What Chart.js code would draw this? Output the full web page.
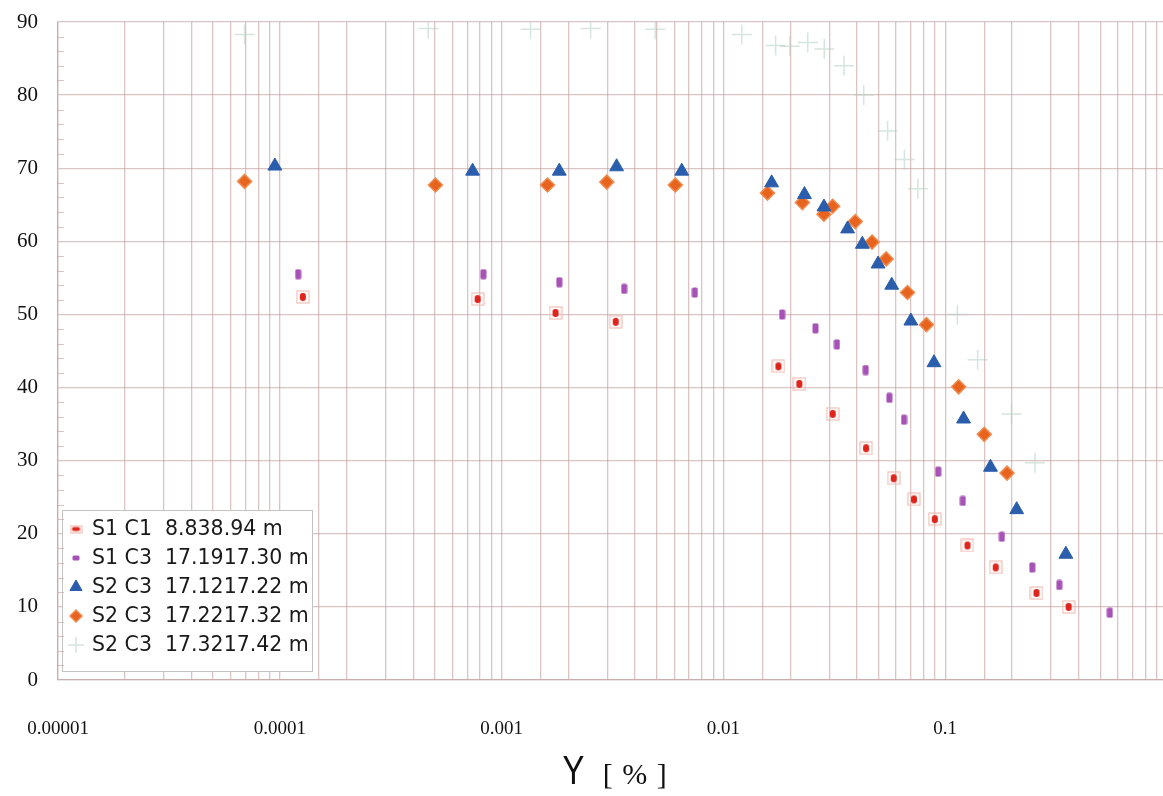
<!DOCTYPE html>
<html>
<head>
<meta charset="utf-8">
<script src="https://cdn.jsdelivr.net/npm/chart.js@4"></script>
<style>
  html, body { margin: 0; padding: 0; background: #fff; overflow: hidden; }
  #wrap { position: relative; width: 1163px; height: 796px; overflow: hidden; }
  #strainChart { position: absolute; left: 0; top: 0; }
  #xTitle { position: absolute; left: 560px; top: 748px; white-space: nowrap; color: #111; }
  #xTitle .sym { font-family: "Liberation Sans", sans-serif; font-size: 40px; display: inline-block; transform: scaleX(0.82); }
  #xTitle .unit { font-family: "Liberation Serif", serif; font-size: 30px; margin-left: 16px; letter-spacing: 1px; }
</style>
</head>
<body>
<div id="wrap">
  <canvas id="strainChart" width="1180" height="796"></canvas>
  <div id="xTitle"><span class="sym">Y</span><span class="unit">[ % ]</span></div>
</div>
<script>
// series labels
const seriesNames = [
  'S1 C1  8.838.94 m',
  'S1 C3  17.1917.30 m',
  'S2 C3  17.1217.22 m',
  'S2 C3  17.2217.32 m',
  'S2 C3  17.3217.42 m'
];

// S1 C1
const s1c1X = [1.27e-4, 7.8e-4, 1.75e-3, 3.27e-3, 0.0177, 0.022, 0.0311, 0.044, 0.0586, 0.0723, 0.0898, 0.126, 0.169, 0.258, 0.36];
const s1c1Y = [52.4, 52.1, 50.2, 49.0, 42.9, 40.5, 36.4, 31.7, 27.6, 24.7, 22.0, 18.4, 15.4, 11.9, 10.0];

// S1 C3
const s1c3X = [1.21e-4, 8.28e-4, 1.82e-3, 3.57e-3, 7.43e-3, 0.0184, 0.026, 0.0325, 0.0438, 0.056, 0.0652, 0.093, 0.12, 0.18, 0.247, 0.327, 0.552];
const s1c3Y = [55.5, 55.5, 54.4, 53.5, 53.0, 50.0, 48.1, 45.9, 42.4, 38.6, 35.6, 28.5, 24.5, 19.6, 15.4, 13.0, 9.2];

// S2 C3, 17.12 - 17.22 m
const s2aX = [9.5e-5, 7.4e-4, 1.82e-3, 3.3e-3, 6.49e-3, 0.0165, 0.0232, 0.0284, 0.0363, 0.0423, 0.0498, 0.0574, 0.07, 0.089, 0.121, 0.16, 0.21, 0.35];
const s2aY = [70.3, 69.6, 69.6, 70.2, 69.6, 68.0, 66.4, 64.7, 61.7, 59.6, 56.9, 54.0, 49.1, 43.4, 35.7, 29.1, 23.3, 17.2];

// S2 C3, 17.22 - 17.32 m
const s2bX = [6.94e-5, 5.03e-4, 1.61e-3, 2.98e-3, 6.07e-3, 0.0158, 0.0227, 0.0284, 0.0311, 0.0393, 0.0468, 0.0542, 0.0676, 0.0823, 0.115, 0.15, 0.19];
const s2bY = [68.2, 67.7, 67.7, 68.1, 67.7, 66.6, 65.3, 63.7, 64.8, 62.7, 59.9, 57.6, 53.0, 48.6, 40.1, 33.6, 28.3];

// S2 C3, 17.32 - 17.42 m
const s2cX = [6.94e-5, 4.67e-4, 1.35e-3, 2.52e-3, 4.93e-3, 0.0121, 0.0172, 0.0199, 0.024, 0.0285, 0.035, 0.0429, 0.055, 0.0655, 0.0753, 0.1135, 0.14, 0.199, 0.254];
const s2cY = [88.3, 89.1, 89.0, 89.1, 89.0, 88.3, 86.8, 86.7, 87.2, 86.3, 84.0, 80.0, 75.1, 71.2, 67.2, 50.0, 43.8, 36.4, 29.7];

// axis ticks
const xTickLabels = ['0.00001', '0.0001', '0.001', '0.01', '0.1', '1'];
const yMin = 0, yMax = 90, yStep = 10;

function pairs(xs, ys) {
  return xs.map((x, i) => ({ x: x, y: ys[i] }));
}

function roundRect(ctx, x, y, w, h, r) {
  ctx.beginPath();
  ctx.moveTo(x + r, y);
  ctx.arcTo(x + w, y, x + w, y + h, r);
  ctx.arcTo(x + w, y + h, x, y + h, r);
  ctx.arcTo(x, y + h, x, y, r);
  ctx.arcTo(x, y, x + w, y, r);
  ctx.closePath();
}

// red dot inside a pale frame
function makeRedMarker(w, h, cw, ch) {
  const c = document.createElement('canvas');
  c.width = w; c.height = h;
  const g = c.getContext('2d');
  g.strokeStyle = 'rgba(238,180,170,0.85)';
  g.lineWidth = 1.2;
  g.strokeRect(1, 1, w - 2, h - 2);
  g.fillStyle = '#e0241c';
  roundRect(g, (w - cw) / 2, (h - ch) / 2, cw, ch, Math.min(cw, ch) / 2.2);
  g.fill();
  return c;
}

// small purple bar
function makePurpleMarker(w, h) {
  const c = document.createElement('canvas');
  c.width = w; c.height = h;
  const g = c.getContext('2d');
  g.fillStyle = '#a652b6';
  roundRect(g, 0.5, 0.5, w - 1, h - 1, 1.5);
  g.fill();
  return c;
}

const redMarker = makeRedMarker(14, 14, 6, 8);
const purpleMarker = makePurpleMarker(7, 11);
const redLegend = makeRedMarker(13, 9, 8, 4);
const purpleLegend = makePurpleMarker(8, 6);

const gridColor = 'rgba(196,160,160,0.62)';

function isDecade(v) {
  const l = Math.log10(v);
  return Math.abs(l - Math.round(l)) < 1e-6;
}

// legend box in the lower left of the plot
const boxLegend = {
  id: 'boxLegend',
  afterDatasetsDraw(chart) {
    const ctx = chart.ctx;
    const left = 62, top = 510, w = 250, h = 161;
    ctx.save();
    ctx.fillStyle = '#ffffff';
    ctx.strokeStyle = 'rgba(195,195,195,1)';
    ctx.lineWidth = 1;
    ctx.fillRect(left, top, w, h);
    ctx.strokeRect(left + 0.5, top + 0.5, w, h);
    ctx.font = '20.5px "DejaVu Sans", sans-serif';
    ctx.textBaseline = 'middle';
    chart.data.datasets.forEach((ds, i) => {
      const cy = top + 19 + i * 29;
      const cx = 76;
      if (ds.legendImage) {
        ctx.drawImage(ds.legendImage, cx - ds.legendImage.width / 2, cy - ds.legendImage.height / 2);
      } else {
        ctx.fillStyle = ds.backgroundColor;
        ctx.strokeStyle = ds.borderColor;
        ctx.lineWidth = ds.borderWidth;
        Chart.helpers.drawPoint(ctx, { pointStyle: ds.pointStyle, radius: ds.legendRadius, borderWidth: ds.borderWidth, rotation: 0 }, cx, cy);
      }
      ctx.fillStyle = '#1a1a1a';
      ctx.fillText(ds.label, 92, cy + 1);
    });
    ctx.restore();
  }
};

// short minor ticks on the left axis
const minorTicks = {
  id: 'minorTicks',
  afterDraw(chart) {
    const ctx = chart.ctx;
    const ys = chart.scales.y;
    const x0 = chart.chartArea.left;
    ctx.save();
    ctx.strokeStyle = gridColor;
    ctx.lineWidth = 1;
    for (let v = yMin + 2; v < yMax; v += 2) {
      if (v % yStep === 0) continue;
      const py = Math.round(ys.getPixelForValue(v)) + 0.5;
      ctx.beginPath();
      ctx.moveTo(x0, py);
      ctx.lineTo(x0 + 6, py);
      ctx.stroke();
    }
    ctx.restore();
  }
};

new Chart(document.getElementById('strainChart'), {
  type: 'scatter',
  data: {
    datasets: [
      {
        label: seriesNames[0],
        data: pairs(s1c1X, s1c1Y),
        pointStyle: redMarker,
        legendImage: redLegend
      },
      {
        label: seriesNames[1],
        data: pairs(s1c3X, s1c3Y),
        pointStyle: purpleMarker,
        legendImage: purpleLegend
      },
      {
        label: seriesNames[2],
        data: pairs(s2aX, s2aY),
        pointStyle: 'triangle',
        pointRadius: 8,
        legendRadius: 7,
        backgroundColor: '#2a5dab',
        borderColor: '#2a5dab',
        borderWidth: 1
      },
      {
        label: seriesNames[3],
        data: pairs(s2bX, s2bY),
        pointStyle: 'rectRot',
        pointRadius: 7,
        legendRadius: 6,
        backgroundColor: '#e8641e',
        borderColor: '#ef8a4e',
        borderWidth: 1.5
      },
      {
        label: seriesNames[4],
        data: pairs(s2cX, s2cY),
        pointStyle: 'cross',
        pointRadius: 10,
        legendRadius: 8,
        backgroundColor: 'rgba(180,208,195,0.55)',
        borderColor: 'rgba(180,208,195,0.55)',
        borderWidth: 1.5
      }
    ]
  },
  options: {
    responsive: false,
    animation: false,
    devicePixelRatio: 1,
    layout: { autoPadding: false, padding: { top: 22, right: 13, left: 0, bottom: 0 } },
    plugins: {
      legend: { display: false },
      tooltip: { enabled: false }
    },
    scales: {
      x: {
        type: 'logarithmic',
        min: 1e-5,
        max: 1,
        afterFit: (scale) => {
          scale.height = 116;
          scale.paddingLeft = 0;
          scale.paddingRight = 0;
        },
        grid: {
          color: gridColor,
          lineWidth: 1.3,
          drawTicks: false
        },
        border: { color: gridColor, width: 1.3 },
        ticks: {
          autoSkip: false,
          maxRotation: 0,
          padding: 38,
          color: '#111',
          font: { family: '"Liberation Serif", serif', size: 19 },
          callback: function (value) {
            if (!isDecade(value)) return '';
            const idx = Math.round(Math.log10(value)) + 5;
            return xTickLabels[idx] || '';
          }
        }
      },
      y: {
        min: yMin,
        max: yMax,
        afterFit: (scale) => {
          scale.width = 58;
          scale.paddingTop = 0;
          scale.paddingBottom = 0;
        },
        grid: {
          color: gridColor,
          lineWidth: 1.3,
          drawTicks: false
        },
        border: { color: gridColor, width: 1.3 },
        ticks: {
          stepSize: yStep,
          padding: 20,
          color: '#111',
          font: { family: '"Liberation Serif", serif', size: 21 }
        }
      }
    }
  },
  plugins: [boxLegend, minorTicks]
});
</script>
</body>
</html>
